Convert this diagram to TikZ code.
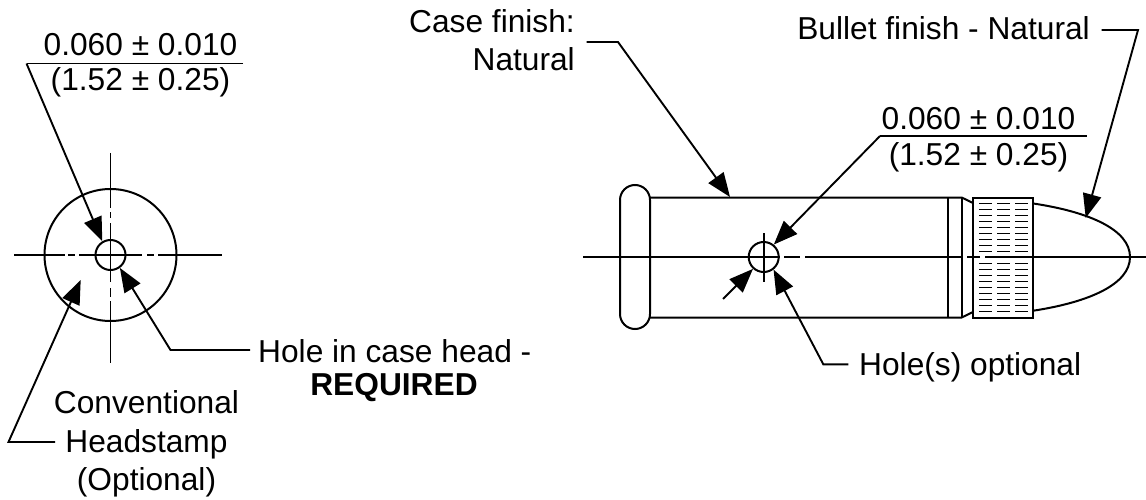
\documentclass[tikz,border=0pt]{standalone}
\usepackage{fontspec}
\setmainfont{Liberation Sans}
\usetikzlibrary{arrows.meta}
\tikzset{
    outline/.style={line width=2pt},
    leader/.style={line width=1.9pt},
    arrowed/.style={leader, -{Triangle[length=24pt,width=18.5pt]}},
    label/.style={inner sep=0pt, anchor=base, font=\fontsize{31.7}{39}\selectfont, align=center},
    hole/.style={circle, draw, outline, inner sep=0pt, minimum size=30pt},
}
\begin{document}
\begin{tikzpicture}[x=1pt,y=-1pt]
        \useasboundingbox (0,0) rectangle (1146,500);
        % head view
        \node[hole] (headHole) at (110.5,255) {};
        \draw[outline] (110.5,255) circle (66);
        \draw[leader] (14,255)  -- (65,255)  (68,255)  -- (75,255)  (79,255)  -- (142,255)
                      (147,255) -- (154,255) (158,255) -- (222,255);
        \draw[leader] (110.5,153) -- (110.5,208) (110.5,212) -- (110.5,218) (110.5,223) -- (110.5,282)
                      (110.5,288) -- (110.5,297) (110.5,301) -- (110.5,363);
        % head view labels
        \node[label] (headDimIn) at (140.5,56) {0.060 ± 0.010};
        \node[label] (headDimMm) at (140.5,91) {(1.52 ± 0.25)};
        \node[label, anchor=base west] (holeText) at (258,362.5) {Hole in case head -};
        \node[label, font=\fontsize{31.7}{39}\selectfont\bfseries] (holeReq) at (394,395) {REQUIRED};
        \node[label] (stampOne) at (146.5,413) {Conventional};
        \node[label] (stampTwo) at (146.5,452) {Headstamp};
        \node[label] (stampThree) at (146.5,490) {(Optional)};
        % head view leaders
        \coordinate (headBarL) at (26.5,63.5);
        \coordinate (headBarR) at (243,63.5);
        \coordinate (holeFree) at (250,350);
        \coordinate (holeKnee) at (170.5,350);
        \coordinate (stampFree) at (55,442);
        \coordinate (stampKnee) at (8.5,442);
        \coordinate (stampTip) at (80.7,280);
        \draw[leader] (headBarR) -- (headBarL);
        \draw[arrowed] (headBarL) -- (headHole.121);
        \draw[arrowed] (holeFree) -- (holeKnee) -- (headHole.-54);
        \draw[arrowed] (stampFree) -- (stampKnee) -- (stampTip);
        % cartridge side view
        \draw[outline, rounded corners=15pt] (620,185) rectangle (650,329);
        \draw[outline] (650,197.5) -- (961.7,197.5) -- (973,203);
        \draw[outline] (650,317.5) -- (961.7,317.5) -- (973,312);
        \draw[outline] (948.3,197.5) -- (948.3,317.5);
        \draw[outline] (961.7,197.5) -- (961.7,317.5);
        \draw[outline] (973,197.5) rectangle (1033.3,317.5);
        \draw[outline] (1033.3,203.5) .. controls (1090,212) and (1130,230) .. (1130,257)
                       .. controls (1130,284) and (1090,302) .. (1033.3,310.7);
        % knurl rows
        \foreach \col in {979.3,997.3,1015}
            \foreach \row in {0,...,8} {
                \draw[line width=1.5pt] (\col,203.3+6*\row) -- ++(13,0);
                \draw[line width=1.5pt] (\col,263.3+6*\row) -- ++(13,0);
            }
        % side hole and centre line
        \node[hole] (caseHole) at (763.7,257) {};
        \draw[leader] (763.7,233) -- (763.7,282);
        \draw[leader] (583,257) -- (780,257) (784,257) -- (800,257) (805,257) -- (962,257)
                      (967,257) -- (980,257) (985,257) -- (1146,257);
        % side view labels
        \node[label, anchor=base east] (caseOne) at (575,32.7) {Case finish:};
        \node[label, anchor=base east] (caseTwo) at (575,70.7) {Natural};
        \node[label, anchor=base east] (bulletText) at (1090,40) {Bullet finish - Natural};
        \node[label] (sideDimIn) at (978.5,129.3) {0.060 ± 0.010};
        \node[label] (sideDimMm) at (978.5,165) {(1.52 ± 0.25)};
        \node[label, anchor=base west] (optText) at (859,375) {Hole(s) optional};
        % side view leaders
        \coordinate (caseFree) at (586.7,42);
        \coordinate (caseKnee) at (618,42);
        \coordinate (caseTip) at (730,197);
        \coordinate (bulletFree) at (1101.7,30);
        \coordinate (bulletKnee) at (1138,30);
        \coordinate (bulletTip) at (1085.7,218);
        \coordinate (sideBarL) at (880,136);
        \coordinate (sideBarR) at (1086.7,136);
        \coordinate (optFree) at (848.3,364.3);
        \coordinate (optKnee) at (823.3,364.3);
        \coordinate (smallTail) at (723,299);
        \draw[arrowed] (caseFree) -- (caseKnee) -- (caseTip);
        \draw[arrowed] (bulletFree) -- (bulletKnee) -- (bulletTip);
        \draw[leader] (sideBarR) -- (sideBarL);
        \draw[arrowed] (sideBarL) -- (caseHole.51);
        \draw[arrowed] (optFree) -- (optKnee) -- (caseHole.-52);
        \draw[arrowed] (smallTail) -- (caseHole.-132);
    \end{tikzpicture}
\end{document}
